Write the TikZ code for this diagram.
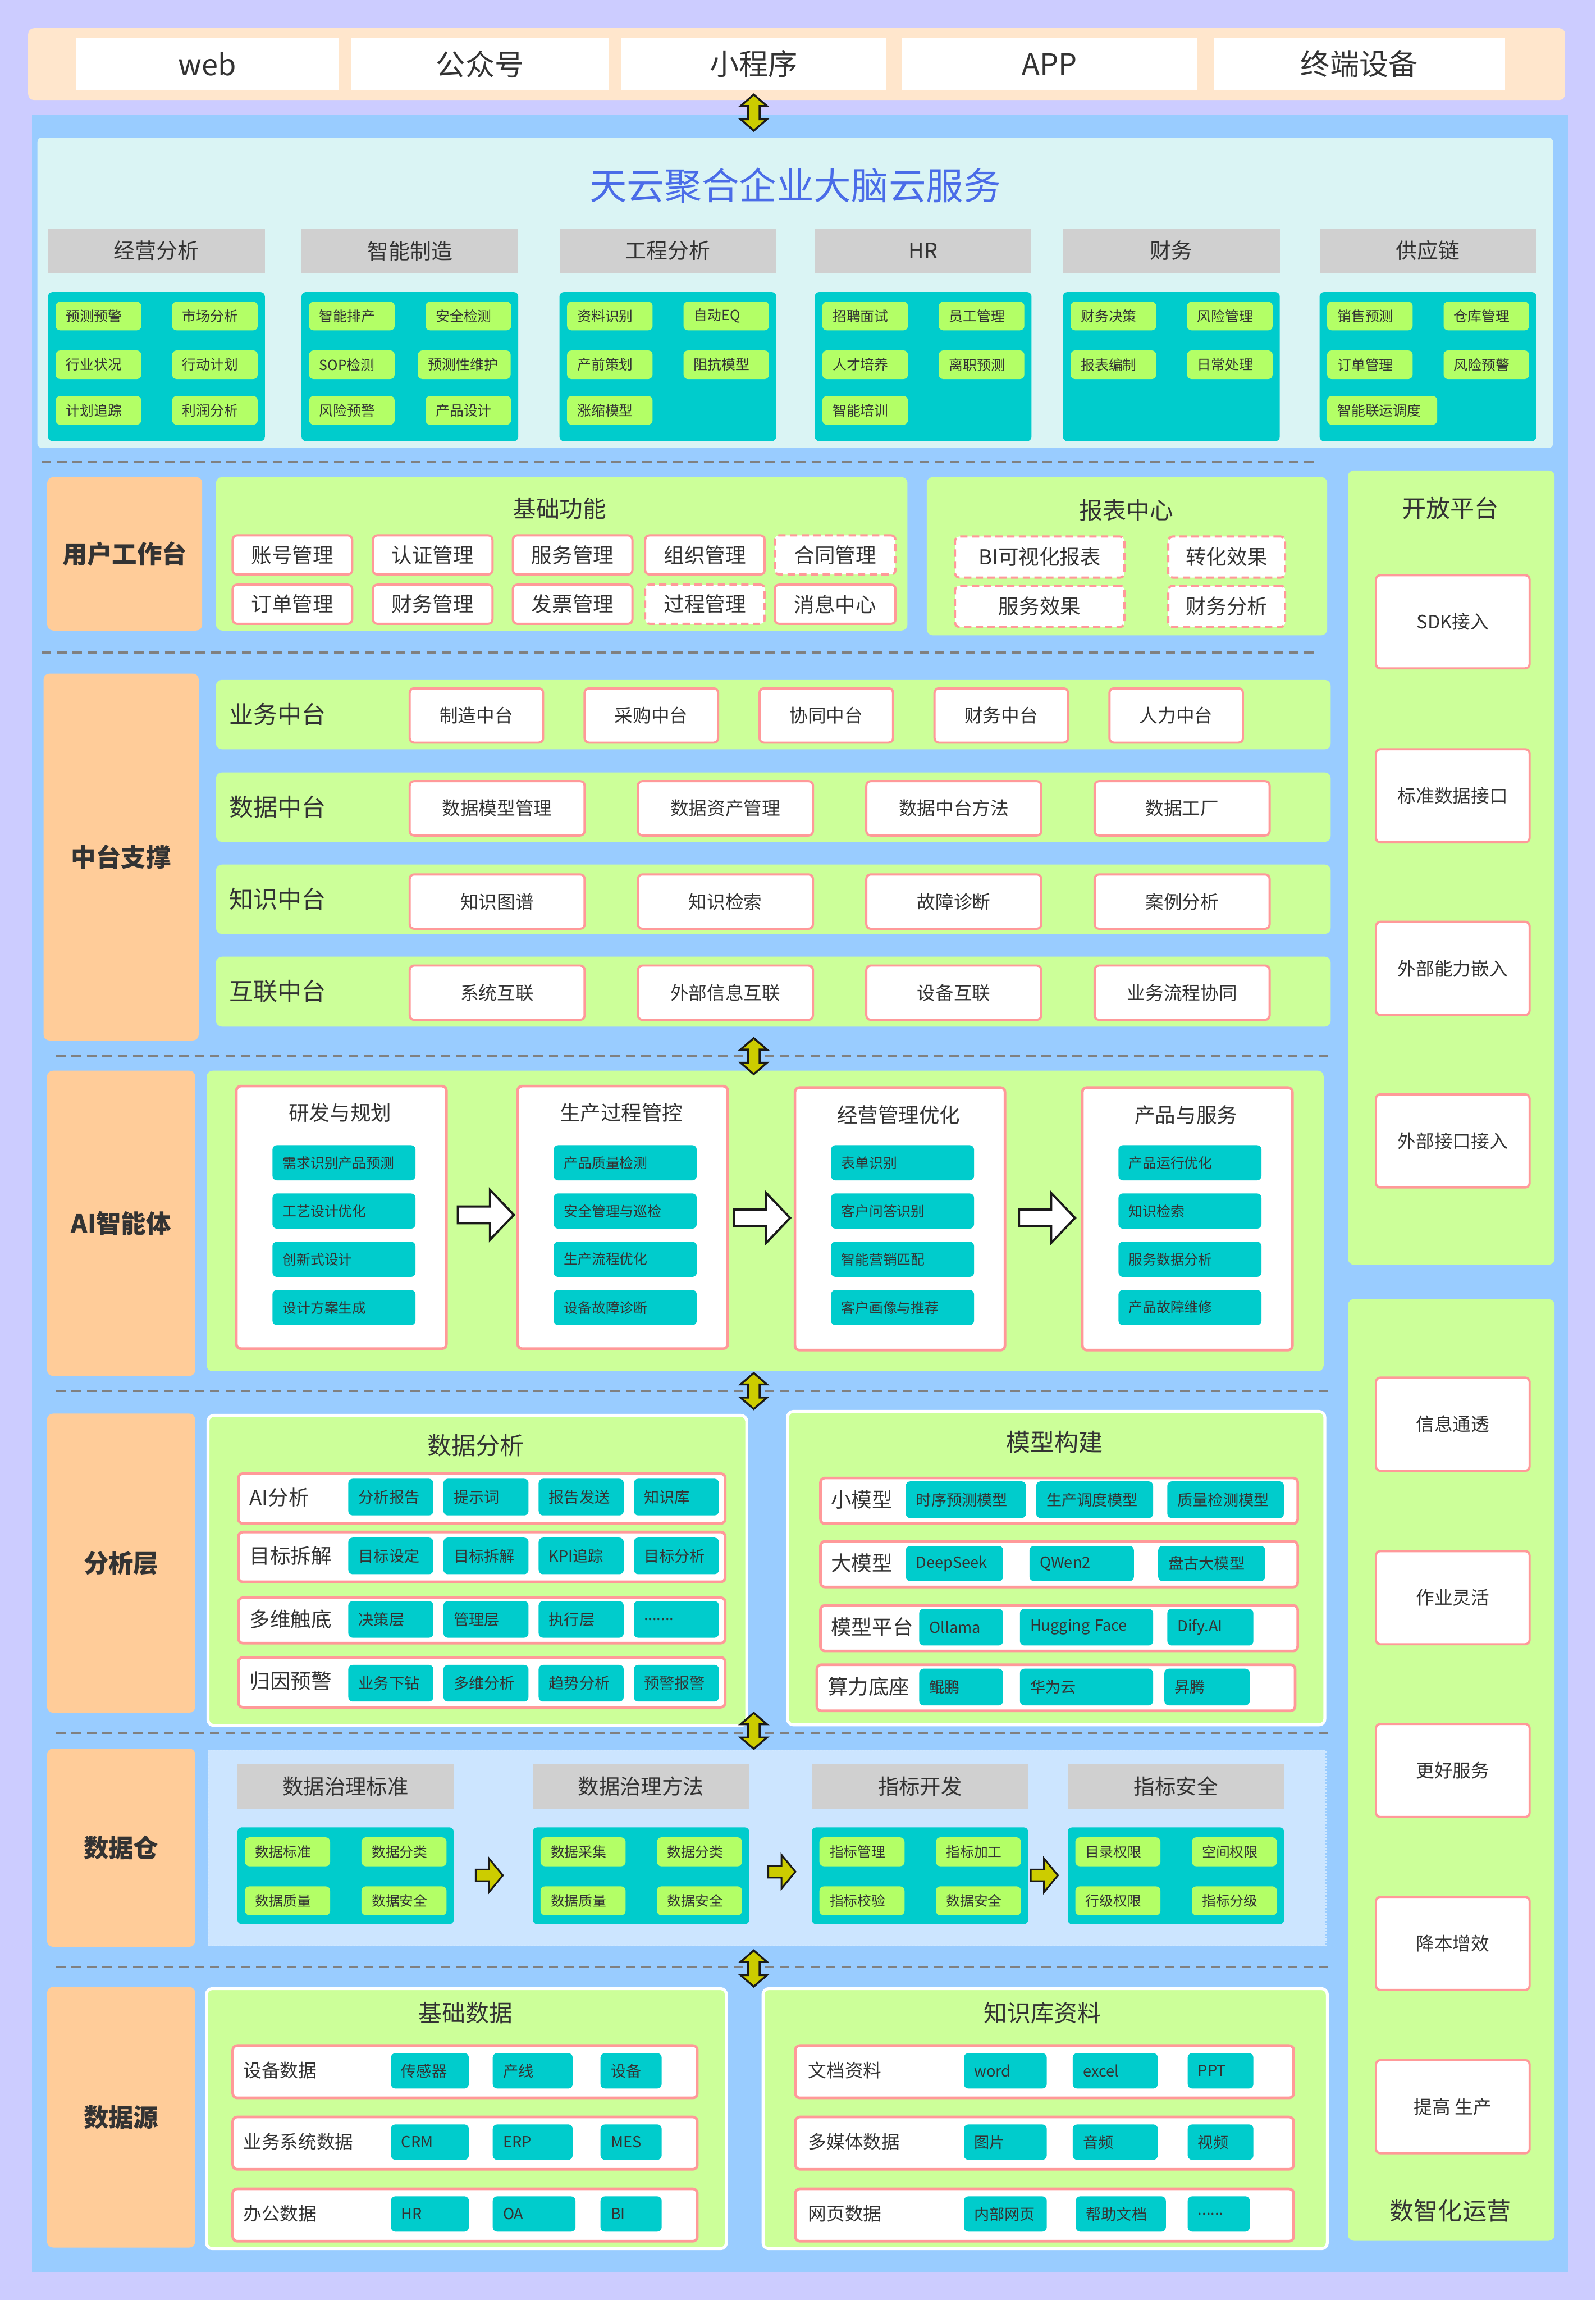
\documentclass[tikz,border=0pt]{standalone}
\usepackage{fontspec}
\setmainfont{Noto Sans CJK SC}
\usetikzlibrary{positioning}

\definecolor{bgc}{HTML}{CCCCFF}
\definecolor{peach}{HTML}{FFE6CC}
\definecolor{bluep}{HTML}{99CCFF}
\definecolor{cloud}{HTML}{DAF4F4}
\definecolor{titleb}{HTML}{4A6CE8}
\definecolor{hdgray}{HTML}{D0D0D0}
\definecolor{tealc}{HTML}{00CCCC}
\definecolor{lgreen}{HTML}{B3FF66}
\definecolor{grn}{HTML}{CCFF99}
\definecolor{pinkc}{HTML}{FF9999}
\definecolor{labc}{HTML}{FFCC99}
\definecolor{whp}{HTML}{CCE5FF}
\definecolor{txt}{HTML}{333333}
\definecolor{yel}{HTML}{CCCC00}
\definecolor{dashc}{HTML}{808080}
\definecolor{dark}{HTML}{1A1A1A}

\newcommand\fsz[1]{\fontsize{#1}{#1}\selectfont}

\begin{document}
\begin{tikzpicture}[x=1pt, y=-1pt,
    sz/.style 2 args={minimum width=#1, minimum height=#2},
    panel/.style={anchor=north west, inner sep=0pt, rounded corners=4pt},
    layer/.style={panel, fill=labc, text=txt, font=\fsz{17}\bfseries},
    chan/.style={anchor=north west, inner sep=0pt, fill=white, text=txt, font=\fsz{20}},
    head/.style={anchor=north west, inner sep=0pt, fill=hdgray, text=txt, font=\fsz{14.5}},
    ttl/.style={inner sep=0pt, text=txt, font=\fsz{16.5}},
    tag/.style={anchor=north west, inner xsep=7pt, inner ysep=0pt, rounded corners=3pt, text=txt, align=left, minimum width=#1, text width=#1-14},
    gtag/.style={tag=#1, fill=lgreen, font=\fsz{9.5}, minimum height=19.5},
    ttag/.style={tag=#1, fill=tealc, font=\fsz{10.4}, minimum height=25},
    pbox/.style={anchor=north west, inner sep=0pt, fill=white, draw=pinkc, line width=1.5pt, rounded corners=3pt, text=txt},
    pdash/.style={pbox, dash pattern=on 5pt off 3pt},
    fnbox/.style={pbox, sz={81.5}{26.7}, font=\fsz{14}},
    zbox/.style={pbox, font=\fsz{12.5}, minimum height=37},
    rbox/.style={pbox, line width=1.8pt},
    card/.style={pbox, line width=1.8pt, sz={143.2}{179}},
    side/.style={pbox, font=\fsz{12.5}, sz={104.8}{63.5}},
    rowlab/.style={anchor=west, inner sep=0pt, text=txt},
    sep/.style={draw=dashc, line width=1.6pt, dash pattern=on 6.5pt off 4pt},
    pics/updown/.style={code={
      \draw[fill=yel, draw=dark, line width=1.3pt]
        (-4,-4.5) -- (-9,-4.5) -- (0,-12.3) -- (9,-4.5) -- (4,-4.5) -- (4,4.5) -- (9,4.5) -- (0,12.3) -- (-9,4.5) -- (-4,4.5) -- cycle;}},
    pics/bigarrow/.style={code={
      \draw[fill=white, draw=dark, line width=1.5pt]
        (0,-5.7) -- (21.9,-5.7) -- (21.9,-17) -- (38.2,0) -- (21.9,17) -- (21.9,5.7) -- (0,5.7) -- cycle;}},
    pics/ylarrow/.style={code={
      \draw[fill=yel, draw=dark, line width=1.2pt]
        (0,-4) -- (9,-4) -- (9,-11.5) -- (18.5,0) -- (9,11.5) -- (9,4) -- (0,4) -- cycle;}}
]
\useasboundingbox (0,0) rectangle (1088,1568);
\fill[bgc] (0,0) rectangle (1088,1568);

% channels
\node[panel, fill=peach, sz={1048}{49}] (band) at (19,19) {};
\node[chan, sz={179.4}{35.1}] (web) at (51.3,25.9) {web};
\node[chan, sz={176.2}{35.1}, right=8pt of web] (gzh) {公众号};
\node[chan, sz={180.1}{35.1}, right=8pt of gzh] (xcx) {小程序};
\node[chan, sz={201.9}{35.1}, right=10.4pt of xcx] (app) {APP};
\node[chan, sz={198.8}{35.1}, right=10.4pt of app] (zd) {终端设备};

\node[anchor=north west, inner sep=0pt, fill=bluep, sz={1047.3}{1470.2}] (main) at (21.5,78.4) {};

% cloud services
\node[panel, rounded corners=3pt, fill=cloud, sz={1033.5}{211.6}] (cloud) at (25.3,93.6) {};
\node[inner sep=0pt, text=titleb, font=\fsz{25.5}] (brain) at (542.3,126.3) {天云聚合企业大脑云服务};

\node[head, sz={147.8}{30.3}] (h1) at (32.6,155.6) {经营分析};
\node[head, sz={147.8}{30.3}] (h2) at (205.4,155.6) {智能制造};
\node[head, sz={147.8}{30.3}] (h3) at (381.3,155.6) {工程分析};
\node[head, sz={147.8}{30.3}] (h4) at (555.4,155.6) {HR};
\node[head, sz={147.8}{30.3}] (h5) at (724.7,155.6) {财务};
\node[head, sz={147.8}{30.3}] (h6) at (899.6,155.6) {供应链};

\node[panel, rounded corners=3pt, fill=tealc, sz={147.8}{101.6}] (t1) at (32.6,198.9) {};
\node[panel, rounded corners=3pt, fill=tealc, sz={147.8}{101.6}] (t2) at (205.4,198.9) {};
\node[panel, rounded corners=3pt, fill=tealc, sz={147.8}{101.6}] (t3) at (381.3,198.9) {};
\node[panel, rounded corners=3pt, fill=tealc, sz={147.8}{101.6}] (t4) at (555.4,198.9) {};
\node[panel, rounded corners=3pt, fill=tealc, sz={147.8}{101.6}] (t5) at (724.7,198.9) {};
\node[panel, rounded corners=3pt, fill=tealc, sz={147.8}{101.6}] (t6) at (899.6,198.9) {};

\node[gtag=58.3] (a11) at (37.8,205.5) {预测预警};
\node[gtag=58.3, right=20.7pt of a11] (a12) {市场分析};
\node[gtag=58.3] (a21) at (37.8,238.7) {行业状况};
\node[gtag=58.3, right=20.7pt of a21] (a22) {行动计划};
\node[gtag=58.3] (a31) at (37.8,269.8) {计划追踪};
\node[gtag=58.3, right=20.7pt of a31] (a32) {利润分析};

\node[gtag=58.3] (b11) at (210.6,205.5) {智能排产};
\node[gtag=58.3, right=20.7pt of b11] (b12) {安全检测};
\node[gtag=58.3] (b21) at (210.6,238.7) {SOP检测};
\node[gtag=63.2] (b22) at (284.8,238.7) {预测性维护};
\node[gtag=58.3] (b31) at (210.6,269.8) {风险预警};
\node[gtag=58.3, right=20.7pt of b31] (b32) {产品设计};

\node[gtag=58.3] (c11) at (386.5,205.5) {资料识别};
\node[gtag=58.3, right=20.7pt of c11] (c12) {自动EQ};
\node[gtag=58.3] (c21) at (386.5,238.7) {产前策划};
\node[gtag=58.3, right=20.7pt of c21] (c22) {阻抗模型};
\node[gtag=58.3] (c31) at (386.5,269.8) {涨缩模型};

\node[gtag=58.3] (d11) at (560.6,205.5) {招聘面试};
\node[gtag=58.3, right=20.7pt of d11] (d12) {员工管理};
\node[gtag=58.3] (d21) at (560.6,238.7) {人才培养};
\node[gtag=58.3, right=20.7pt of d21] (d22) {离职预测};
\node[gtag=58.3] (d31) at (560.6,269.8) {智能培训};

\node[gtag=58.3] (e11) at (729.9,205.5) {财务决策};
\node[gtag=58.3, right=20.7pt of e11] (e12) {风险管理};
\node[gtag=58.3] (e21) at (729.9,238.7) {报表编制};
\node[gtag=58.3, right=20.7pt of e21] (e22) {日常处理};

\node[gtag=58.3] (f11) at (904.8,205.5) {销售预测};
\node[gtag=58.3, right=20.7pt of f11] (f12) {仓库管理};
\node[gtag=58.3] (f21) at (904.8,238.7) {订单管理};
\node[gtag=58.3, right=20.7pt of f21] (f22) {风险预警};
\node[gtag=75] (f31) at (904.8,269.8) {智能联运调度};

% layer separators
\draw[sep] (28.4,315) -- (899.6,315);
\draw[sep] (28.4,445) -- (899.6,445);
\draw[sep] (38.2,720) -- (908.3,720);
\draw[sep] (38.2,948.3) -- (908.3,948.3);
\draw[sep] (38.2,1181.3) -- (908.3,1181.3);
\draw[sep] (38.2,1341.1) -- (908.3,1341.1);

% user workbench
\node[layer, sz={105.7}{104.5}] (yh) at (32,325.1) {用户工作台};
\node[panel, fill=grn, sz={471.5}{104.5}] (jcgn) at (147.1,325.1) {};
\node[ttl, font=\fsz{16}] (jcgnt) at (381.6,346.6) {基础功能};
\node[fnbox] (u11) at (157.9,364.2) {账号管理};
\node[fnbox] (u12) at (253.6,364.2) {认证管理};
\node[fnbox] (u13) at (349,364.2) {服务管理};
\node[fnbox] (u14) at (439.2,364.2) {组织管理};
\node[fnbox, dash pattern=on 5pt off 3pt, minimum width=82.3] (u15) at (527.6,364.2) {合同管理};
\node[fnbox] (u21) at (157.9,397.8) {订单管理};
\node[fnbox] (u22) at (253.6,397.8) {财务管理};
\node[fnbox] (u23) at (349,397.8) {发票管理};
\node[fnbox, dash pattern=on 5pt off 3pt] (u24) at (439.2,397.8) {过程管理};
\node[fnbox, minimum width=82.3] (u25) at (527.6,397.8) {消息中心};

\node[panel, fill=grn, sz={273}{107.8}] (bb) at (631.8,325.1) {};
\node[ttl, font=\fsz{16}] (bbt) at (768.1,348) {报表中心};
\node[pdash, sz={115.5}{28}, font=\fsz{14}] (bi) at (650.5,365) {BI可视化报表};
\node[pdash, sz={79.7}{28}, font=\fsz{14}] (zhxg) at (795.9,365) {转化效果};
\node[pdash, sz={115.5}{28}, font=\fsz{14}] (fwxg) at (650.5,398.6) {服务效果};
\node[pdash, sz={79.7}{28}, font=\fsz{14}] (cwfx) at (795.9,398.6) {财务分析};

% open platform
\node[panel, fill=grn, sz={140.8}{541.5}] (kf) at (919,320.5) {};
\node[ttl] (kft) at (989,346.6) {开放平台};
\node[side] (sdk) at (937.5,391.4) {SDK接入};
\node[side] (bzjk) at (937.5,510) {标准数据接口};
\node[side] (nlqr) at (937.5,627.7) {外部能力嵌入};
\node[side] (jkjr) at (937.5,745.3) {外部接口接入};

\node[panel, fill=grn, sz={140.8}{641.9}] (yy) at (919,885.5) {};
\node[side] (xxtt) at (937.5,938.4) {信息通透};
\node[side] (zylh) at (937.5,1056.7) {作业灵活};
\node[side] (ghfw) at (937.5,1174.5) {更好服务};
\node[side] (jbzx) at (937.5,1292.4) {降本增效};
\node[side] (tgsc) at (937.5,1403.7) {提高 生产};
\node[ttl] (yyt) at (989,1507.2) {数智化运营};

% middle platforms
\node[layer, sz={105.8}{250.1}] (zt) at (29.5,459) {中台支撑};
\node[panel, fill=grn, sz={760.1}{47.3}] (ywr) at (147.1,463.3) {};
\node[rowlab, font=\fsz{16.5}] (ywl) at (156,486.9) {业务中台};
\node[zbox, minimum width=91] (m11) at (278.6,468.5) {制造中台};
\node[zbox, minimum width=91, right=26.8pt of m11] (m12) {采购中台};
\node[zbox, minimum width=91, right=26.8pt of m12] (m13) {协同中台};
\node[zbox, minimum width=91, right=26.8pt of m13] (m14) {财务中台};
\node[zbox, minimum width=91, right=26.8pt of m14] (m15) {人力中台};

\node[panel, fill=grn, sz={760.1}{47.3}] (sjr) at (147.1,526.4) {};
\node[rowlab, font=\fsz{16.5}] (sjl) at (156,550) {数据中台};
\node[zbox, minimum width=119.3] (m21) at (278.6,531.8) {数据模型管理};
\node[zbox, minimum width=119.3, right=34.9pt of m21] (m22) {数据资产管理};
\node[zbox, minimum width=119.3, right=34.9pt of m22] (m23) {数据中台方法};
\node[zbox, minimum width=119.3, right=34.9pt of m23] (m24) {数据工厂};

\node[panel, fill=grn, sz={760.1}{47.3}] (zsr) at (147.1,589.2) {};
\node[rowlab, font=\fsz{16.5}] (zsl) at (156,612.8) {知识中台};
\node[zbox, minimum width=119.3] (m31) at (278.6,595.4) {知识图谱};
\node[zbox, minimum width=119.3, right=34.9pt of m31] (m32) {知识检索};
\node[zbox, minimum width=119.3, right=34.9pt of m32] (m33) {故障诊断};
\node[zbox, minimum width=119.3, right=34.9pt of m33] (m34) {案例分析};

\node[panel, fill=grn, sz={760.1}{47.7}] (hlr) at (147.1,652) {};
\node[rowlab, font=\fsz{16.5}] (hll) at (156,675.9) {互联中台};
\node[zbox, minimum width=119.3] (m41) at (278.6,657.5) {系统互联};
\node[zbox, minimum width=119.3, right=34.9pt of m41] (m42) {外部信息互联};
\node[zbox, minimum width=119.3, right=34.9pt of m42] (m43) {设备互联};
\node[zbox, minimum width=119.3, right=34.9pt of m43] (m44) {业务流程协同};

% AI agents
\node[layer, sz={101}{208.1}] (ai) at (31.9,729.7) {AI智能体};
\node[panel, fill=grn, sz={761.6}{204.9}] (aip) at (140.8,729.7) {};
\node[card] (card1) at (160.3,739.5) {};
\node[card] (card2) at (352.1,739.5) {};
\node[card] (card3) at (541.2,740.5) {};
\node[card] (card4) at (737.2,740.5) {};
\node[ttl, font=\fsz{14}] (ct1) at (231.9,758.5) {研发与规划};
\node[ttl, font=\fsz{14}] (ct2) at (423.7,758.5) {生产过程管控};
\node[ttl, font=\fsz{14}] (ct3) at (612.8,760) {经营管理优化};
\node[ttl, font=\fsz{14}] (ct4) at (808.8,760) {产品与服务};

\node[ttag=97.5, font=\fsz{9.5}, minimum height=24] (r11) at (185.6,780.5) {需求识别产品预测};
\node[ttag=97.5, font=\fsz{9.5}, minimum height=24, below=8.5pt of r11] (r12) {工艺设计优化};
\node[ttag=97.5, font=\fsz{9.5}, minimum height=24, below=8.5pt of r12] (r13) {创新式设计};
\node[ttag=97.5, font=\fsz{9.5}, minimum height=24, below=8.5pt of r13] (r14) {设计方案生成};

\node[ttag=97.5, font=\fsz{9.5}, minimum height=24] (r21) at (377.4,780.5) {产品质量检测};
\node[ttag=97.5, font=\fsz{9.5}, minimum height=24, below=8.5pt of r21] (r22) {安全管理与巡检};
\node[ttag=97.5, font=\fsz{9.5}, minimum height=24, below=8.5pt of r22] (r23) {生产流程优化};
\node[ttag=97.5, font=\fsz{9.5}, minimum height=24, below=8.5pt of r23] (r24) {设备故障诊断};

\node[ttag=97.5, font=\fsz{9.5}, minimum height=24] (r31) at (566.5,780.5) {表单识别};
\node[ttag=97.5, font=\fsz{9.5}, minimum height=24, below=8.5pt of r31] (r32) {客户问答识别};
\node[ttag=97.5, font=\fsz{9.5}, minimum height=24, below=8.5pt of r32] (r33) {智能营销匹配};
\node[ttag=97.5, font=\fsz{9.5}, minimum height=24, below=8.5pt of r33] (r34) {客户画像与推荐};

\node[ttag=97.5, font=\fsz{9.5}, minimum height=24] (r41) at (762.5,780.5) {产品运行优化};
\node[ttag=97.5, font=\fsz{9.5}, minimum height=24, below=8.5pt of r41] (r42) {知识检索};
\node[ttag=97.5, font=\fsz{9.5}, minimum height=24, below=8.5pt of r42] (r43) {服务数据分析};
\node[ttag=97.5, font=\fsz{9.5}, minimum height=24, below=8.5pt of r43] (r44) {产品故障维修};

\pic at (312.2,828.2) {bigarrow};
\pic at (500.6,830.3) {bigarrow};
\pic at (694.9,830.3) {bigarrow};

% analysis layer
\node[layer, sz={101}{203.9}] (fx) at (31.9,963.5) {分析层};
\node[panel, fill=grn, draw=white, line width=2pt, sz={367.4}{211.4}] (da) at (140.8,963.9) {};
\node[ttl] (dat) at (324.4,985.6) {数据分析};

\node[rbox, sz={331.9}{34}] (q1) at (161.7,1003.7) {};
\node[rowlab, font=\fsz{14}] (q1l) at (170,1020.7) {AI分析};
\node[ttag=58] (q11) at (237.3,1007.9) {分析报告};
\node[ttag=58, right=6.5pt of q11] (q12) {提示词};
\node[ttag=58, right=6.5pt of q12] (q13) {报告发送};
\node[ttag=58, right=6.5pt of q13] (q14) {知识库};

\node[rbox, sz={331.9}{34}] (q2) at (161.7,1043.5) {};
\node[rowlab, font=\fsz{14}] (q2l) at (170,1060.5) {目标拆解};
\node[ttag=58] (q21) at (237.3,1048) {目标设定};
\node[ttag=58, right=6.5pt of q21] (q22) {目标拆解};
\node[ttag=58, right=6.5pt of q22] (q23) {KPI追踪};
\node[ttag=58, right=6.5pt of q23] (q24) {目标分析};

\node[rbox, sz={331.9}{31}] (q3) at (161.7,1088.3) {};
\node[rowlab, font=\fsz{14}] (q3l) at (170,1103.8) {多维触底};
\node[ttag=58] (q31) at (237.3,1091.3) {决策层};
\node[ttag=58, right=6.5pt of q31] (q32) {管理层};
\node[ttag=58, right=6.5pt of q32] (q33) {执行层};
\node[ttag=58, right=6.5pt of q33] (q34) {.......};

\node[rbox, sz={331.9}{34}] (q4) at (161.7,1129) {};
\node[rowlab, font=\fsz{14}] (q4l) at (170,1146) {归因预警};
\node[ttag=58] (q41) at (237.3,1134.8) {业务下钻};
\node[ttag=58, right=6.5pt of q41] (q42) {多维分析};
\node[ttag=58, right=6.5pt of q42] (q43) {趋势分析};
\node[ttag=58, right=6.5pt of q43] (q44) {预警报警};

\node[panel, fill=grn, draw=white, line width=2pt, sz={366.4}{213.7}] (mxgj) at (536,961.2) {};
\node[ttl] (mxgjt) at (719.2,983.2) {模型构建};

\node[rbox, sz={325.4}{31.1}] (n1) at (558.6,1006.7) {};
\node[rowlab, font=\fsz{14}] (n1l) at (566.5,1022.3) {小模型};
\node[ttag=81.9] (n11) at (617.5,1009.7) {时序预测模型};
\node[ttag=79.7] (n12) at (706.4,1009.7) {生产调度模型};
\node[ttag=79.5] (n13) at (795.8,1009.7) {质量检测模型};

\node[rbox, sz={325.4}{31.1}] (n2) at (558.6,1049.9) {};
\node[rowlab, font=\fsz{14}] (n2l) at (566.5,1065.5) {大模型};
\node[ttag=66.3, minimum height=24] (n21) at (617.5,1053.7) {DeepSeek};
\node[ttag=71.2, minimum height=24] (n22) at (701.8,1053.7) {QWen2};
\node[ttag=72.9, minimum height=24] (n23) at (789.6,1053.7) {盘古大模型};

\node[rbox, sz={325.4}{31}] (n3) at (558.6,1093.6) {};
\node[rowlab, font=\fsz{14}] (n3l) at (566.5,1109.1) {模型平台};
\node[ttag=57.2] (n31) at (626.6,1096.6) {Ollama};
\node[ttag=90.8] (n32) at (695.3,1096.6) {Hugging Face};
\node[ttag=58.7] (n33) at (795.8,1096.6) {Dify.AI};

\node[rbox, sz={326.1}{31.4}] (n4) at (556.1,1134) {};
\node[rowlab, font=\fsz{14}] (n4l) at (564.1,1149.7) {算力底座};
\node[ttag=57.2] (n41) at (626.6,1137.4) {鲲鹏};
\node[ttag=90.8] (n42) at (695.3,1137.4) {华为云};
\node[ttag=58.2] (n43) at (793.8,1137.4) {昇腾};

% data warehouse
\node[layer, sz={101}{135.1}] (sc) at (31.9,1191.9) {数据仓};
\node[anchor=north west, inner sep=0pt, fill=whp, draw=white!55!bluep, line width=1pt, dash pattern=on 1.2pt off 1pt, sz={761.9}{133.2}] (scp) at (141.5,1192.8) {};
\node[head, sz={147.5}{30.6}, font=\fsz{14.3}] (g1) at (161.7,1202.4) {数据治理标准};
\node[head, sz={147.5}{30.6}, font=\fsz{14.3}] (g2) at (363.2,1202.4) {数据治理方法};
\node[head, sz={147.5}{30.6}, font=\fsz{14.3}] (g3) at (553.4,1202.4) {指标开发};
\node[head, sz={147.5}{30.6}, font=\fsz{14.3}] (g4) at (727.9,1202.4) {指标安全};
\node[panel, rounded corners=3pt, fill=tealc, sz={147.5}{66}] (k1) at (161.7,1245.6) {};
\node[panel, rounded corners=3pt, fill=tealc, sz={147.5}{66}] (k2) at (363.2,1245.6) {};
\node[panel, rounded corners=3pt, fill=tealc, sz={147.5}{66}] (k3) at (553.4,1245.6) {};
\node[panel, rounded corners=3pt, fill=tealc, sz={147.5}{66}] (k4) at (727.9,1245.6) {};

\node[gtag=58, minimum height=19.7] (s11) at (166.9,1252.4) {数据标准};
\node[gtag=58, minimum height=19.7, right=21pt of s11] (s12) {数据分类};
\node[gtag=58, minimum height=19.7] (s13) at (166.9,1285.8) {数据质量};
\node[gtag=58, minimum height=19.7, right=21pt of s13] (s14) {数据安全};

\node[gtag=58, minimum height=19.7] (s21) at (368.4,1252.4) {数据采集};
\node[gtag=58, minimum height=19.7, right=21pt of s21] (s22) {数据分类};
\node[gtag=58, minimum height=19.7] (s23) at (368.4,1285.8) {数据质量};
\node[gtag=58, minimum height=19.7, right=21pt of s23] (s24) {数据安全};

\node[gtag=58, minimum height=19.7] (s31) at (558.6,1252.4) {指标管理};
\node[gtag=58, minimum height=19.7, right=21pt of s31] (s32) {指标加工};
\node[gtag=58, minimum height=19.7] (s33) at (558.6,1285.8) {指标校验};
\node[gtag=58, minimum height=19.7, right=21pt of s33] (s34) {数据安全};

\node[gtag=58, minimum height=19.7] (s41) at (733.1,1252.4) {目录权限};
\node[gtag=58, minimum height=19.7, right=21pt of s41] (s42) {空间权限};
\node[gtag=58, minimum height=19.7] (s43) at (733.1,1285.8) {行级权限};
\node[gtag=58, minimum height=19.7, right=21pt of s43] (s44) {指标分级};

\pic at (324.4,1278.5) {ylarrow};
\pic at (523.9,1276) {ylarrow};
\pic at (702.9,1278.5) {ylarrow};

% data sources
\node[layer, sz={101}{177.6}] (sy) at (31.9,1354.4) {数据源};
\node[panel, fill=grn, draw=white, line width=2pt, sz={354.5}{177.3}] (jc) at (139.8,1354.7) {};
\node[ttl, font=\fsz{16}] (jct) at (317.5,1372.4) {基础数据};

\node[rbox, sz={316.8}{35.7}] (v1) at (157.8,1393.6) {};
\node[rowlab, font=\fsz{12.5}] (v1l) at (165.8,1411.5) {设备数据};
\node[ttag=53.1, minimum height=24.1] (v11) at (266.4,1399.5) {传感器};
\node[ttag=54.5, minimum height=24.1] (v12) at (335.8,1399.5) {产线};
\node[ttag=41.7, minimum height=24.1] (v13) at (409.3,1399.5) {设备};

\node[rbox, sz={316.8}{35.7}] (v2) at (157.8,1442.3) {};
\node[rowlab, font=\fsz{12.5}] (v2l) at (165.8,1460.2) {业务系统数据};
\node[ttag=53.1, minimum height=24.1] (v21) at (266.4,1448.1) {CRM};
\node[ttag=54.5, minimum height=24.1] (v22) at (335.8,1448.1) {ERP};
\node[ttag=41.7, minimum height=24.1] (v23) at (409.3,1448.1) {MES};

\node[rbox, sz={316.8}{35.7}] (v3) at (157.8,1491.3) {};
\node[rowlab, font=\fsz{12.5}] (v3l) at (165.8,1509.2) {办公数据};
\node[ttag=53.1, minimum height=24.1] (v31) at (266.4,1497.1) {HR};
\node[ttag=56.4, minimum height=24.1] (v32) at (335.8,1497.1) {OA};
\node[ttag=41.7, minimum height=24.1] (v33) at (409.3,1497.1) {BI};

\node[panel, fill=grn, draw=white, line width=2pt, sz={384.8}{177.3}] (zs) at (519.3,1354.7) {};
\node[ttl, font=\fsz{16}] (zst) at (710.9,1372.4) {知识库资料};

\node[rbox, sz={339.7}{35.7}] (w1) at (541.5,1393.6) {};
\node[rowlab, font=\fsz{12.5}] (w1l) at (551,1411.5) {文档资料};
\node[ttag=56.5, minimum height=24.1] (w11) at (657.1,1399.5) {word};
\node[ttag=58, minimum height=24.1] (w12) at (731.3,1399.5) {excel};
\node[ttag=44.8, minimum height=24.1] (w13) at (809.7,1399.5) {PPT};

\node[rbox, sz={339.7}{35.7}] (w2) at (541.5,1442.3) {};
\node[rowlab, font=\fsz{12.5}] (w2l) at (551,1460.2) {多媒体数据};
\node[ttag=56.5, minimum height=24.1] (w21) at (657.1,1448.1) {图片};
\node[ttag=58, minimum height=24.1] (w22) at (731.3,1448.1) {音频};
\node[ttag=44.8, minimum height=24.1] (w23) at (809.7,1448.1) {视频};

\node[rbox, sz={339.7}{35.7}] (w3) at (541.5,1491.3) {};
\node[rowlab, font=\fsz{12.5}] (w3l) at (551,1509.2) {网页数据};
\node[ttag=56.5, minimum height=24.1] (w31) at (657.1,1497.1) {内部网页};
\node[ttag=61.4, minimum height=24.1] (w32) at (733.4,1497.1) {帮助文档};
\node[ttag=42.3, minimum height=24.1] (w33) at (809.7,1497.1) {......};

% arrows between layers
\pic at (514,76.8) {updown};
\pic at (514,720) {updown};
\pic at (514,948.3) {updown};
\pic at (514,1180) {updown};
\pic at (514,1342) {updown};
\end{tikzpicture}
\end{document}
